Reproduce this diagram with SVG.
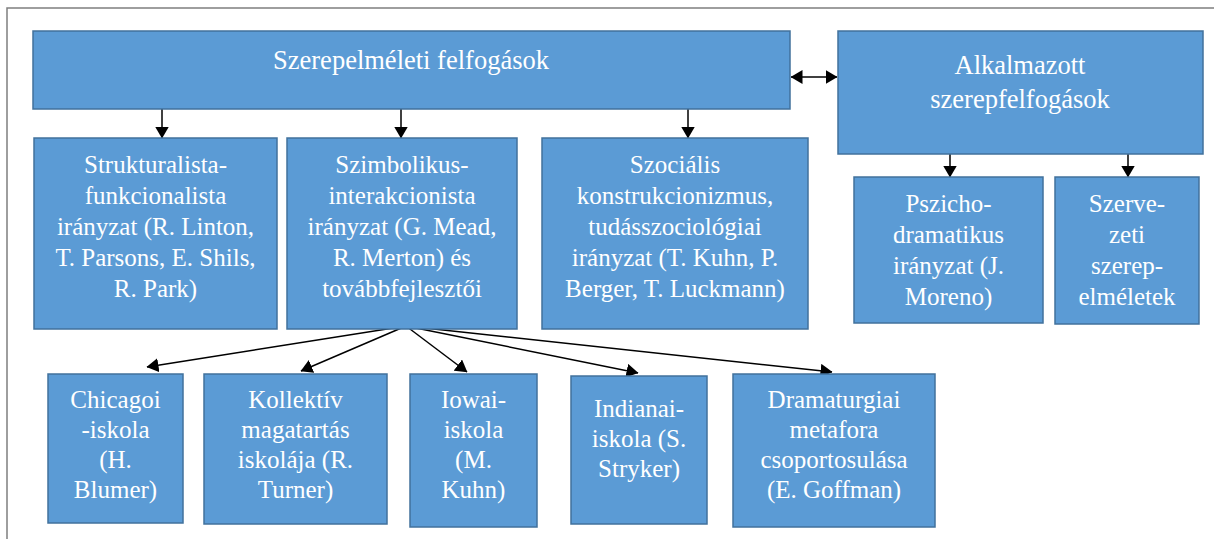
<svg xmlns="http://www.w3.org/2000/svg" width="1214" height="539" viewBox="0 0 1214 539">
<style>
.box{fill:#5B9BD5;stroke:#41719C;stroke-width:1.5}
.t{font-family:"Liberation Serif","Times New Roman","DejaVu Serif",serif;font-size:25px;fill:#FFFFFF;text-anchor:middle}
.big{font-size:26.5px}
.c{stroke:#000;stroke-width:1.5;fill:none}
.frame{stroke:#7F7F7F;stroke-width:1.5;fill:none}
</style>
<defs>
<marker id="ah" markerUnits="userSpaceOnUse" markerWidth="12" markerHeight="14" viewBox="0 0 12 14" refX="11.5" refY="7" orient="auto-start-reverse">
<path d="M0,0 L12,7 L0,14 Z" fill="#000"/>
</marker>
</defs>
<rect width="1214" height="539" fill="#FFFFFF"/>
<path class="frame" d="M7,539 V8 H1214"/>

<g id="connectors">
<line class="c" x1="162" y1="109" x2="162" y2="138" marker-end="url(#ah)"/>
<line class="c" x1="401" y1="109" x2="401" y2="138" marker-end="url(#ah)"/>
<line class="c" x1="688" y1="109" x2="688" y2="138" marker-end="url(#ah)"/>
<line class="c" x1="791" y1="77" x2="837" y2="77" marker-start="url(#ah)" marker-end="url(#ah)"/>
<line class="c" x1="950" y1="154" x2="950" y2="177" marker-end="url(#ah)"/>
<line class="c" x1="1128" y1="154" x2="1128" y2="177" marker-end="url(#ah)"/>
<line class="c" x1="406" y1="326" x2="147" y2="367" marker-end="url(#ah)"/>
<line class="c" x1="406" y1="326" x2="301" y2="371" marker-end="url(#ah)"/>
<line class="c" x1="406" y1="326" x2="467" y2="372" marker-end="url(#ah)"/>
<line class="c" x1="406" y1="326" x2="638" y2="373" marker-end="url(#ah)"/>
<line class="c" x1="406" y1="326" x2="832" y2="372" marker-end="url(#ah)"/>
</g>

<g id="n-szerepelmeleti">
<rect class="box" x="33" y="31" width="757" height="78"/>
<text class="t big" x="411" y="69">Szerepelméleti felfogások</text>
</g>
<g id="n-alkalmazott">
<rect class="box" x="838" y="31" width="365" height="123"/>
<text class="t big" x="1020" y="74">Alkalmazott</text>
<text class="t big" x="1020" y="108">szerepfelfogások</text>
</g>

<g id="n-strukturalista">
<rect class="box" x="34" y="138" width="243" height="191"/>
<text class="t" x="155.5" y="173">Strukturalista-</text>
<text class="t" x="155.5" y="204">funkcionalista</text>
<text class="t" x="155.5" y="235">irányzat (R. Linton,</text>
<text class="t" x="155.5" y="266">T. Parsons, E. Shils,</text>
<text class="t" x="155.5" y="297">R. Park)</text>
</g>
<g id="n-szimbolikus">
<rect class="box" x="287" y="138" width="230" height="191"/>
<text class="t" x="402" y="173">Szimbolikus-</text>
<text class="t" x="402" y="204">interakcionista</text>
<text class="t" x="402" y="235">irányzat (G. Mead,</text>
<text class="t" x="402" y="266">R. Merton) és</text>
<text class="t" x="402" y="297">továbbfejlesztői</text>
</g>
<g id="n-szocialis">
<rect class="box" x="542" y="138" width="266" height="191"/>
<text class="t" x="675" y="173">Szociális</text>
<text class="t" x="675" y="204">konstrukcionizmus,</text>
<text class="t" x="675" y="235">tudásszociológiai</text>
<text class="t" x="675" y="266">irányzat (T. Kuhn, P.</text>
<text class="t" x="675" y="297">Berger, T. Luckmann)</text>
</g>
<g id="n-pszicho">
<rect class="box" x="854" y="177" width="189" height="146"/>
<text class="t" x="948.5" y="212">Pszicho-</text>
<text class="t" x="948.5" y="243">dramatikus</text>
<text class="t" x="948.5" y="274">irányzat (J.</text>
<text class="t" x="948.5" y="305">Moreno)</text>
</g>
<g id="n-szerve">
<rect class="box" x="1055" y="177" width="144" height="147"/>
<text class="t" x="1127" y="212">Szerve-</text>
<text class="t" x="1127" y="243">zeti</text>
<text class="t" x="1127" y="274">szerep-</text>
<text class="t" x="1127" y="305">elméletek</text>
</g>

<g id="n-chicagoi">
<rect class="box" x="48" y="374" width="135" height="149"/>
<text class="t" x="115.5" y="408">Chicagoi</text>
<text class="t" x="115.5" y="438">-iskola</text>
<text class="t" x="115.5" y="468">(H.</text>
<text class="t" x="115.5" y="498">Blumer)</text>
</g>
<g id="n-kollektiv">
<rect class="box" x="204" y="374" width="183" height="150"/>
<text class="t" x="295.5" y="408">Kollektív</text>
<text class="t" x="295.5" y="438">magatartás</text>
<text class="t" x="295.5" y="468">iskolája (R.</text>
<text class="t" x="295.5" y="498">Turner)</text>
</g>
<g id="n-iowai">
<rect class="box" x="410" y="374" width="127" height="153"/>
<text class="t" x="473.5" y="408">Iowai-</text>
<text class="t" x="473.5" y="438">iskola</text>
<text class="t" x="473.5" y="468">(M.</text>
<text class="t" x="473.5" y="498">Kuhn)</text>
</g>
<g id="n-indianai">
<rect class="box" x="571" y="376" width="136" height="148"/>
<text class="t" x="639" y="417">Indianai-</text>
<text class="t" x="639" y="447">iskola (S.</text>
<text class="t" x="639" y="477">Stryker)</text>
</g>
<g id="n-dramaturgiai">
<rect class="box" x="733" y="374" width="202" height="153"/>
<text class="t" x="834" y="408">Dramaturgiai</text>
<text class="t" x="834" y="438">metafora</text>
<text class="t" x="834" y="468">csoportosulása</text>
<text class="t" x="834" y="498">(E. Goffman)</text>
</g>
</svg>
